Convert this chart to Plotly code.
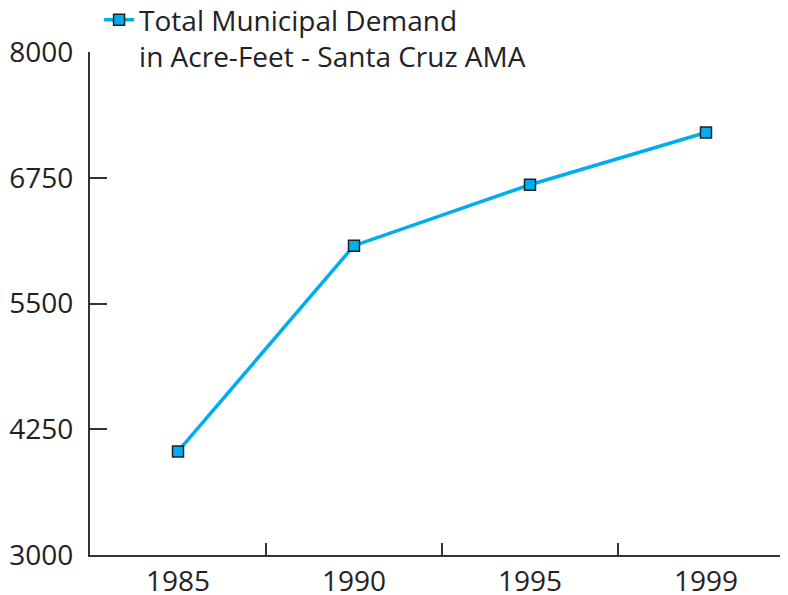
import plotly.graph_objects as go

years = ["1985", "1990", "1995", "1999"]
demand = [4030, 6075, 6680, 7200]
y_ticks = [3000, 4250, 5500, 6750, 8000]
series_name = "Total Municipal Demand<br>in Acre-Feet - Santa Cruz AMA"

FONT = "Open Sans"
AXIS_COLOR = "#333333"
LINE_COLOR = "#00AEEF"
TEXT_COLOR = "#222222"

fig = go.Figure()
fig.add_trace(go.Scatter(
    x=years, y=demand, name=series_name, mode="lines+markers",
    line=dict(color=LINE_COLOR, width=3.5),
    marker=dict(symbol="square", size=11, color=LINE_COLOR,
                line=dict(color="#222222", width=1.5)),
    showlegend=True,
))

fig.update_layout(
    width=788, height=595,
    margin=dict(l=82, r=8, t=44, b=48, pad=0, autoexpand=False),
    paper_bgcolor="white", plot_bgcolor="white",
    font=dict(family=FONT, size=28, color=TEXT_COLOR),
    showlegend=True,
    legend=dict(x=0.013, xref="paper", y=1.113, yref="paper", yanchor="top",
                xanchor="left", font=dict(size=28, family=FONT, color=TEXT_COLOR),
                bgcolor="rgba(0,0,0,0)", valign="top"),
    xaxis=dict(type="category", range=[-0.5, 3.466], tickson="boundaries",
               ticks="inside", ticklen=12, tickwidth=1.5, tickcolor=AXIS_COLOR,
               showline=True, linecolor=AXIS_COLOR, linewidth=2, tickangle=0,
               showgrid=False, zeroline=False,
               tickfont=dict(size=28, family=FONT, color=TEXT_COLOR)),
    yaxis=dict(range=[3000, 8000], tickvals=y_ticks,
               ticktext=[str(v) for v in y_ticks],
               ticks="inside", ticklen=17, tickwidth=1.5, tickcolor=AXIS_COLOR,
               showline=True, linecolor=AXIS_COLOR, linewidth=2,
               showgrid=False, zeroline=False, ticklabelstandoff=9,
               tickfont=dict(size=28, family=FONT, color=TEXT_COLOR)),
)

fig.write_html("out.html")
